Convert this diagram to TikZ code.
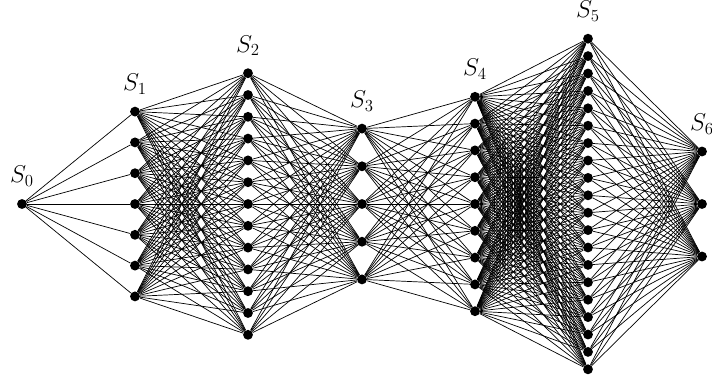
\documentclass[tikz,border=0pt]{standalone}
\usetikzlibrary{positioning}

\begin{document}
\begin{tikzpicture}[
  x=0.025cm, y=-0.025cm,
  font=\fontsize{18}{20}\selectfont,
  unit/.style={circle, fill=black, minimum size=7pt, inner sep=0pt},
  edge/.style={draw=black, line width=0.5pt}
]
\useasboundingbox (0,0) rectangle (712,383);

% layers: index / x / number of units / spacing
\foreach \l/\x/\n/\d in {0/22/1/0, 1/135/7/30.8, 2/248/13/21.8, 3/362/5/37.7,
                         4/475/9/26.8, 5/588/20/17.4, 6/702/3/52.5} {
  \foreach \j in {1,...,\n}
    \node[unit] (s\l-\j) at (\x, {204 + (\j - (\n+1)/2)*\d}) {};
  \node[above=7.5pt of s\l-1, inner sep=1pt] (lab\l) {$S_{\l}$};
}

% full connections between neighbouring layers
\foreach \a/\na/\b/\nb in {0/1/1/7, 1/7/2/13, 2/13/3/5, 3/5/4/9, 4/9/5/20, 5/20/6/3} {
  \foreach \i in {1,...,\na}
    \foreach \j in {1,...,\nb}
      \draw[edge] (s\a-\i) -- (s\b-\j);
}
\end{tikzpicture}
\end{document}
